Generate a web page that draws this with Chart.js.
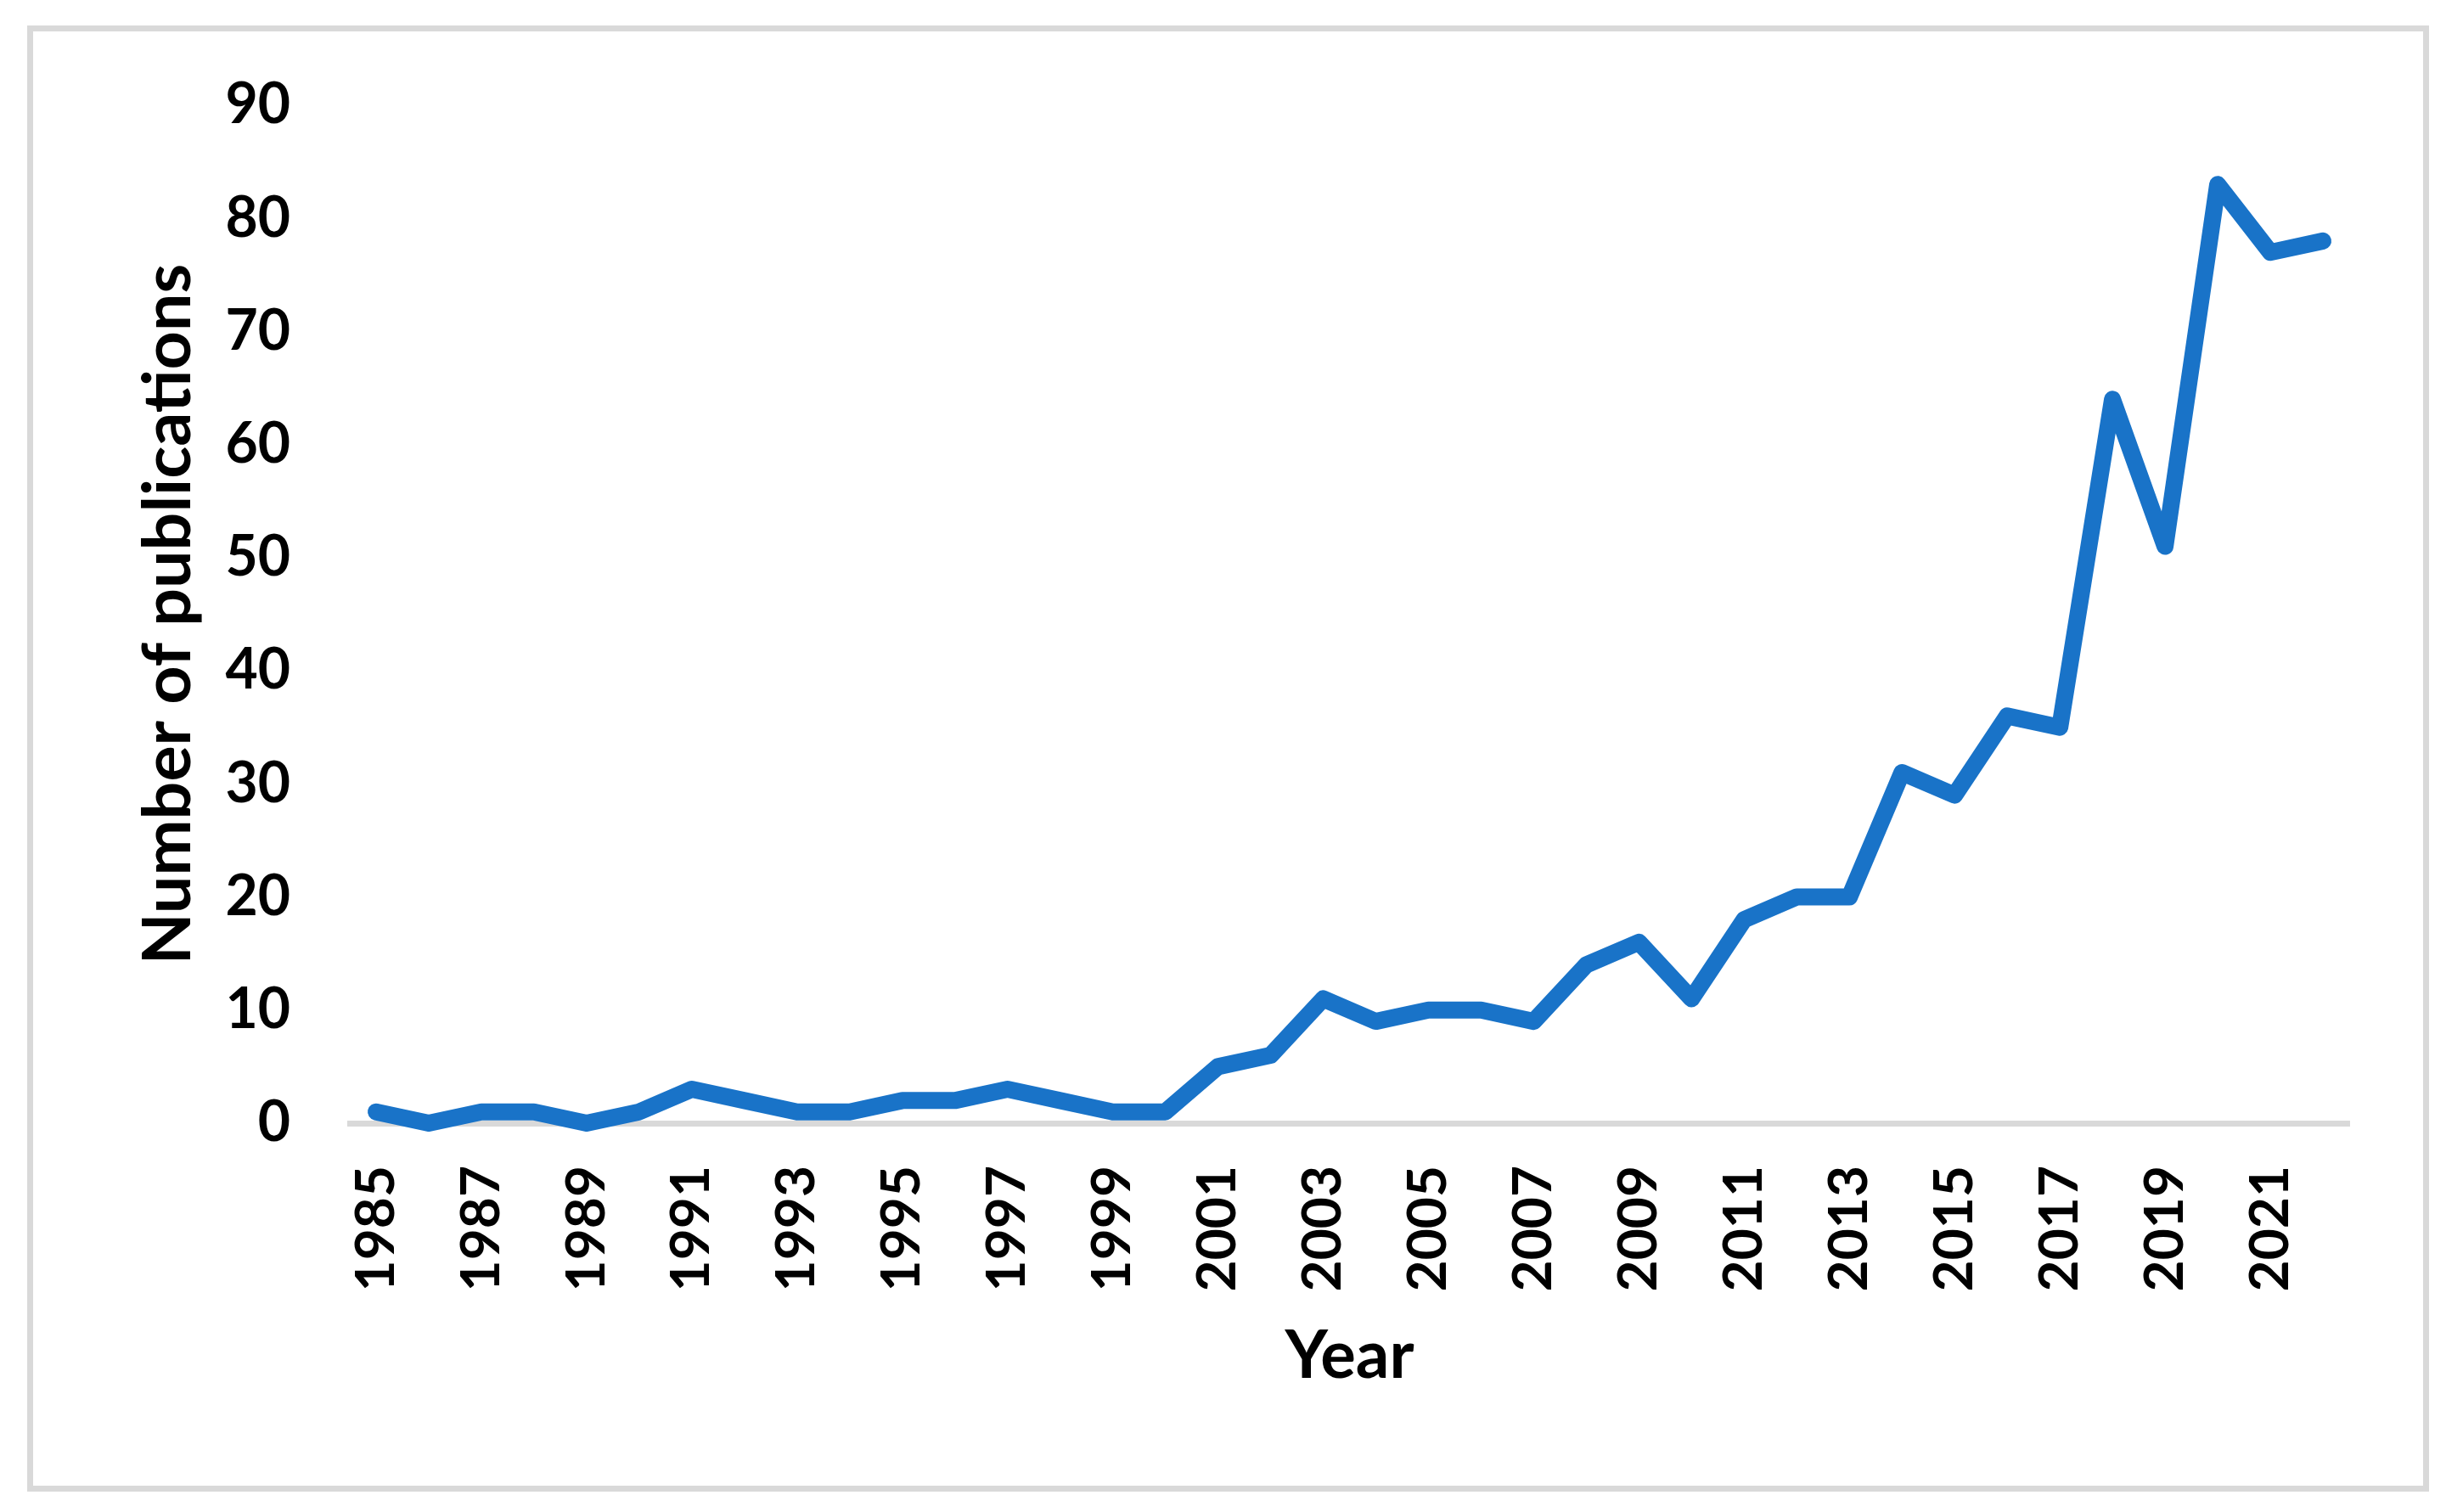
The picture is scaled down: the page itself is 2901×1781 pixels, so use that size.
<!DOCTYPE html>
<html>
<head>
<meta charset="utf-8">
<script src="https://cdn.jsdelivr.net/npm/chart.js@4"></script>
<style>
  html,body{margin:0;padding:0;background:#fff;}
  .wrap{position:relative;width:2901px;height:1781px;}
  .wrap canvas{position:absolute;left:0;top:0;}
  .frame{position:absolute;left:32px;top:30px;width:2829px;height:1727px;box-sizing:border-box;border:7px solid #d9d9d9;pointer-events:none;}
</style>
</head>
<body>
<div class="wrap">
  <canvas id="charts" width="2901" height="1781"></canvas>
  <div class="frame"></div>
</div>
<script>
// data
const years = [1985,1986,1987,1988,1989,1990,1991,1992,1993,1994,1995,1996,1997,1998,1999,2000,
  2001,2002,2003,2004,2005,2006,2007,2008,2009,2010,2011,2012,2013,2014,2015,2016,2017,2018,2019,2020,2021,2022];
const publications = [1,0,1,1,0,1,3,2,1,1,2,2,3,2,1,1,
  5,6,11,9,10,10,9,14,16,11,18,20,20,31,29,36,35,64,51,83,77,78];
const yTicks = [0,10,20,30,40,50,60,70,80,90];

const font = 'Lato, "Open Sans", sans-serif';
const ctx = document.querySelector('#charts');

new Chart(ctx, {
  type: 'line',
  data: {
    labels: years.map(String),
    datasets: [{
      label: 'Publications',
      data: publications,
      borderColor: '#1973c8',
      borderWidth: 20,
      borderCapStyle: 'round',
      borderJoinStyle: 'round',
      pointRadius: 0,
      tension: 0,
      fill: false,
      clip: false
    }]
  },
  options: {
    responsive: false,
    animation: false,
    layout: { padding: { top: 124, right: 134, bottom: 0, left: 0 } },
    plugins: {
      legend: { display: false },
      tooltip: { enabled: false }
    },
    scales: {
      x: {
        type: 'category',
        offset: true,
        grid: { display: false, drawTicks: false },
        border: { display: true, color: '#d9d9d9', width: 7 },
        ticks: {
          autoSkip: false,
          minRotation: 90,
          maxRotation: 90,
          padding: 50,
          color: '#000',
          font: { family: font, size: 64, weight: 'bold' },
          // only every second year is labelled
          callback: function(v, i){ return i % 2 === 0 ? this.getLabelForValue(v) : ''; }
        },
        title: {
          display: true,
          text: 'Year',
          color: '#000',
          font: { family: font, size: 78, weight: 'bold' },
          padding: { top: 0, bottom: 136 }
        },
        afterFit: (s) => { s.height = 458; }
      },
      y: {
        min: 0,
        max: 90,
        grid: { display: false, drawTicks: false },
        border: { display: false },
        afterBuildTicks: (s) => { s.ticks = yTicks.map(v => ({ value: v })); },
        ticks: {
          padding: 70,
          color: '#000',
          font: { family: font, size: 66, weight: 'bold' }
        },
        title: {
          display: true,
          text: 'Number of publications',
          color: '#000',
          font: { family: font, size: 79, weight: 'bold' },
          padding: { top: 151, bottom: 0 }
        },
        afterFit: (s) => { s.width = 412; }
      }
    }
  }
});
</script>
</body>
</html>
